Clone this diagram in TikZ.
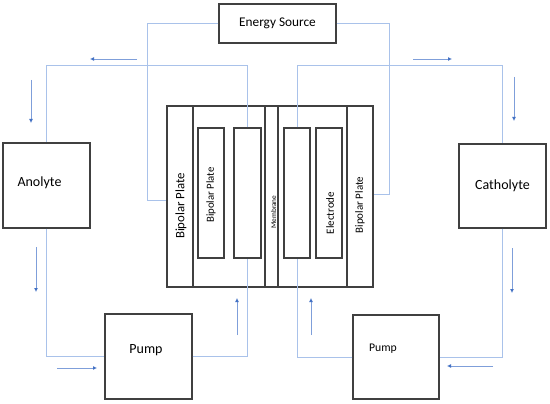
\documentclass[tikz,border=0pt]{standalone}
\usepackage{fontspec}
\setmainfont{Carlito}
\usetikzlibrary{arrows.meta}
\begin{document}
\begin{tikzpicture}[x=1pt,y=-1pt]
\definecolor{cpipe}{HTML}{A9C2EA}\definecolor{carrow}{HTML}{4472C4}\definecolor{carrowl}{HTML}{7F9FDA}\definecolor{cbox}{HTML}{404040}
\tikzset{box/.style={draw=cbox,line width=1.2pt,inner sep=0pt,minimum width=87pt,minimum height=85pt,font=\fontsize{14}{16}\selectfont},
 part/.style={draw=cbox,line width=1.2pt,inner sep=0pt,minimum width=26pt,minimum height=181pt},
 cellbox/.style={draw=cbox,line width=1.2pt,inner sep=0pt,minimum width=26pt,minimum height=130pt},
 vlabel/.style={rotate=90,inner sep=0pt},
 pipe/.style={draw=cpipe,line width=0.9pt},
 flow/.style={draw=carrowl,line width=0.8pt,-{Latex[length=4pt,width=4pt,color=carrow]}}}
\useasboundingbox (0,0) rectangle (550,404);
% tanks, pumps and source
\node[box,minimum width=117pt,minimum height=39pt,font=\fontsize{13.3}{15}\selectfont] (src) at (277.5,23.5) {Energy Source};
\node[box,label={[xshift=-7pt,yshift=2.5pt,font=\fontsize{14}{16}\selectfont]center:Anolyte}] (anolyte) at (46.5,185.5) {};
\node[box,minimum height=84pt] (catholyte) at (502.5,186) {Catholyte};
\node[box,label={[xshift=-2.5pt,yshift=6pt,font=\fontsize{14}{16}\selectfont]center:Pump}] (pumpA) at (148.5,356.5) {};
\node[box,minimum width=86pt,minimum height=84pt,label={[xshift=-13pt,yshift=8pt,font=\fontsize{11.7}{14}\selectfont]center:Pump}] (pumpB) at (396,357) {};
% cell stack
\node[part,minimum width=206pt] (stack) at (270,196.5) {};
\node[part] (plateL) at (180,196.5) {};
\node[part,minimum width=13pt] (membrane) at (271.5,196.5) {};
\node[part] (plateR) at (360,196.5) {};
\node[cellbox] (plateIn) at (211,193) {};
\node[cellbox,minimum width=27pt] (cellA) at (247.5,193) {};
\node[cellbox] (cellB) at (297,193) {};
\node[cellbox] (electrode) at (329,193) {};
\node[vlabel,font=\fontsize{12.8}{15}\selectfont] (lblL) at (181,206) {Bipolar Plate};
\node[vlabel,font=\fontsize{10.8}{13}\selectfont] (lblIn) at (211,195) {Bipolar Plate};
\node[vlabel,font=\fontsize{7.3}{9}\selectfont] (lblM) at (273.5,212) {Membrane};
\node[vlabel,font=\fontsize{11}{13}\selectfont] (lblE) at (330,213) {Electrode};
\node[vlabel,font=\fontsize{11}{13}\selectfont] (lblR) at (360,205) {Bipolar Plate};
% pipes
\coordinate (eL) at (147,200);
\coordinate (eR) at (389,194);
\coordinate (topL) at (0,65);
\draw[pipe] (src.west) -| (eL) -- (eL -| plateL.west);
\draw[pipe] (src.east) -| (eR) -- (eR -| plateR.east);
\draw[pipe] (cellA.north) -- (cellA.north |- topL) -| (anolyte.north);
\draw[pipe] (cellB.north) -- (cellB.north |- topL) -| (catholyte.north);
\draw[pipe] (anolyte.south) |- (pumpA.west);
\draw[pipe] (pumpA.east) -| (cellA.south);
\draw[pipe] (catholyte.south) |- (pumpB.east);
\draw[pipe] (pumpB.west) -| (cellB.south);
% flow arrows
\draw[flow] (137,59) -- (90,59);
\draw[flow] (31,80) -- (31,123);
\draw[flow] (36,247) -- (36,292);
\draw[flow] (57,368) -- (97,368);
\draw[flow] (237,335) -- (237,298);
\draw[flow] (311,335) -- (311,298);
\draw[flow] (493,366) -- (447,366);
\draw[flow] (512,248) -- (512,293);
\draw[flow] (514,77) -- (514,121);
\draw[flow] (413,59) -- (452,59);
\end{tikzpicture}
\end{document}
